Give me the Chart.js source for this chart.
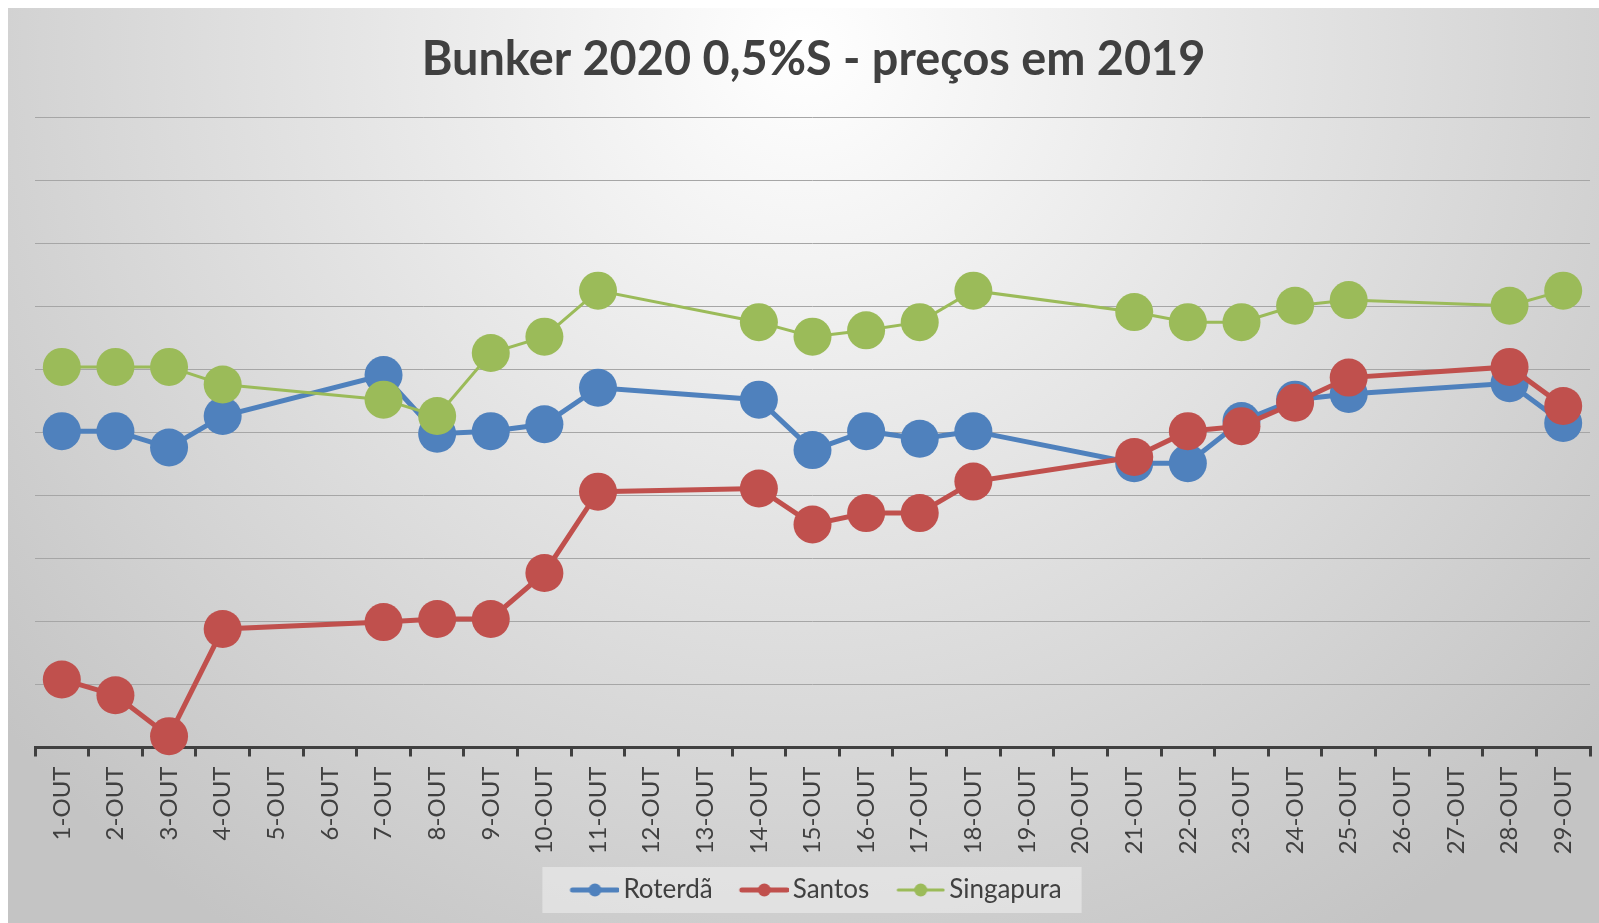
<!DOCTYPE html>
<html>
<head>
<meta charset="utf-8">
<script src="https://cdn.jsdelivr.net/npm/chart.js@4/dist/chart.umd.min.js"></script>
<style>
  html, body { margin: 0; padding: 0; background: #ffffff; overflow: hidden; }
  #wrap { position: absolute; left: 8px; top: 8px; width: 1601px; height: 915px; }
</style>
</head>
<body>
<div id="wrap"><canvas id="c"></canvas></div>
<script>
const categories = ['1-OUT','2-OUT','3-OUT','4-OUT','5-OUT','6-OUT','7-OUT','8-OUT','9-OUT','10-OUT',
  '11-OUT','12-OUT','13-OUT','14-OUT','15-OUT','16-OUT','17-OUT','18-OUT','19-OUT','20-OUT',
  '21-OUT','22-OUT','23-OUT','24-OUT','25-OUT','26-OUT','27-OUT','28-OUT','29-OUT'];

const roterda = [5.02, 5.02, 4.76, 5.26, null, null, 5.91, 4.98, 5.02, 5.13,
  5.71, null, null, 5.52, 4.72, 5.02, 4.90, 5.02, null, null,
  4.51, 4.51, 5.18, 5.52, 5.61, null, null, 5.78, 5.15];

const santos = [1.08, 0.83, 0.18, 1.88, null, null, 1.99, 2.04, 2.04, 2.77,
  4.06, null, null, 4.11, 3.54, 3.72, 3.72, 4.22, null, null,
  4.61, 5.02, 5.10, 5.47, 5.87, null, null, 6.04, 5.42];

const singapura = [6.04, 6.04, 6.04, 5.76, null, null, 5.52, 5.26, 6.26, 6.52,
  7.25, null, null, 6.75, 6.52, 6.62, 6.75, 7.25, null, null,
  6.91, 6.75, 6.75, 7.01, 7.10, null, null, 7.01, 7.25];

const seriesNames = ['Roterdã', 'Santos', 'Singapura'];
const seriesColors = ['#4F81BD', '#C0504D', '#9BBB59'];
const seriesWidths = [5, 5, 3];
const titleText = 'Bunker 2020 0,5%S - preços em 2019';

const LEG_FONT = 26;
const LEG_PAD = 22;
const BOX_W = 45;           // legend box width reserved by Chart.js
const ICON_LEN = 49;
const ICON_START = BOX_W + LEG_FONT / 2 - 4 - ICON_LEN; // icon start inside box
const ICON_EXTRA = 9;
function legendIcon(color, lw) {
  const cv = document.createElement('canvas');
  cv.width = BOX_W + ICON_EXTRA * 2; cv.height = 16;
  const g = cv.getContext('2d');
  const x0 = ICON_EXTRA + ICON_START, x1 = x0 + ICON_LEN;
  g.strokeStyle = color; g.lineWidth = lw; g.lineCap = 'round';
  g.beginPath(); g.moveTo(x0 + 2, 8); g.lineTo(x1 - 2, 8); g.stroke();
  g.fillStyle = color;
  g.beginPath(); g.arc((x0 + x1) / 2, 8, 6.5, 0, Math.PI * 2); g.fill();
  return cv;
}

const bgPlugin = {
  id: 'bg',
  beforeDraw(chart) {
    const ctx = chart.ctx;
    const w = 1591, h = chart.height;
    ctx.save();
    const grad = ctx.createRadialGradient(w * 0.5, 40, 0, w * 0.5, 40, 1050);
    grad.addColorStop(0, '#ffffff');
    grad.addColorStop(0.45, '#e4e4e4');
    grad.addColorStop(1, '#c4c4c4');
    ctx.fillStyle = grad;
    ctx.fillRect(0, 0, chart.width, h);
    const lg = chart.legend;
    if (lg && lg.legendHitBoxes && lg.legendHitBoxes.length) {
      const hb = lg.legendHitBoxes;
      let l = Infinity, r = -Infinity, t = Infinity, b = -Infinity;
      hb.forEach(bx => { l = Math.min(l, bx.left); r = Math.max(r, bx.left + bx.width); t = Math.min(t, bx.top); b = Math.max(b, bx.top + bx.height); });
      const cy = (t + b) / 2;
      const bl = l + ICON_START - 28;
      ctx.fillStyle = 'rgba(240,240,240,0.55)';
      ctx.fillRect(bl, cy - 23, (r + 20) - bl, 46);
    }
    ctx.restore();
  }
};

const datasets = [roterda, santos, singapura].map((vals, i) => ({
  label: seriesNames[i],
  data: vals,
  borderColor: seriesColors[i],
  backgroundColor: seriesColors[i],
  borderWidth: seriesWidths[i],
  pointRadius: 19,
  pointHoverRadius: 19,
  pointBorderWidth: 0,
  pointBackgroundColor: seriesColors[i],
  pointBorderColor: seriesColors[i],
  tension: 0,
  spanGaps: true,
  clip: false,
  order: 3 - i
}));

new Chart(document.getElementById('c'), {
  type: 'line',
  data: { labels: categories, datasets },
  plugins: [bgPlugin],
  options: {
    responsive: true,
    maintainAspectRatio: false,
    animation: false,
    events: [],
    layout: { padding: { left: 27, right: 17, top: 0, bottom: 10 } },
    plugins: {
      title: {
        display: true,
        text: titleText,
        color: '#404040',
        font: { family: 'Lato', size: 46.8, weight: 'bold' },
        padding: { top: 24, bottom: 29.2 }
      },
      legend: {
        position: 'bottom',
        labels: {
          usePointStyle: true,
          pointStyleWidth: BOX_W,
          padding: LEG_PAD,
          color: '#404040',
          font: { family: 'Lato', size: LEG_FONT },
          generateLabels(chart) {
            return chart.data.datasets.map((ds, i) => ({
              text: ds.label,
              pointStyle: legendIcon(seriesColors[i], seriesWidths[i]),
              fontColor: '#404040',
              fillStyle: seriesColors[i],
              strokeStyle: seriesColors[i],
              lineWidth: 0,
              hidden: false,
              datasetIndex: i
            }));
          }
        }
      },
      tooltip: { enabled: false }
    },
    scales: {
      x: {
        offset: true,
        afterFit(scale) { scale.height -= (LEG_PAD - 13.7) + 1; },
        grid: { offset: true, drawOnChartArea: false, drawTicks: true, tickLength: 9, color: '#404040', lineWidth: 3 },
        border: { display: true, color: '#404040', width: 3 },
        ticks: { maxRotation: 90, minRotation: 90, autoSkip: false, color: '#404040', font: { family: 'Lato', size: 24 }, padding: 10 }
      },
      y: {
        min: 0,
        max: 10,
        ticks: { display: false, stepSize: 1 },
        grid: { color: '#a6a6a6', lineWidth: 1, drawTicks: false },
        border: { display: false }
      }
    }
  }
});
</script>
</body>
</html>
